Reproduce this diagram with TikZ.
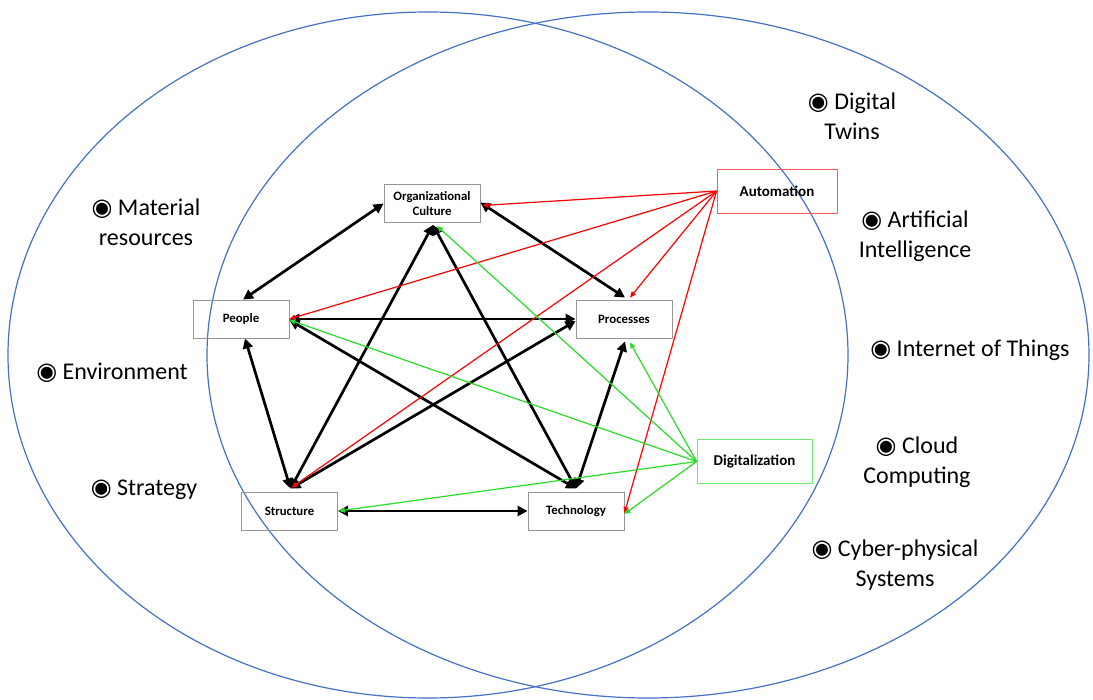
\documentclass[tikz,border=0pt]{standalone}
\usepackage{fontspec}
\setmainfont{Carlito}[BoldFont={Carlito Bold}]
\newfontfamily\symfont{DejaVu Sans}
\usetikzlibrary{arrows.meta}

\definecolor{ellblue}{RGB}{68,114,196}
\definecolor{linkred}{RGB}{255,0,0}
\definecolor{linkgreen}{RGB}{40,220,40}
\definecolor{boxgray}{RGB}{150,150,150}
\definecolor{autoborder}{RGB}{255,90,90}
\definecolor{digiborder}{RGB}{110,235,110}

\newcommand{\bul}{{\symfont\char"25C9}\ }

\tikzset{
  dimbox/.style={draw=boxgray, line width=0.8pt, minimum width=96pt, minimum height=38pt,
    inner sep=1pt, align=center, font=\fontsize{12.8}{15.5}\selectfont\bfseries},
  drvbox/.style={dimbox, minimum width=120pt, minimum height=44pt, font=\fontsize{15}{17}\selectfont\bfseries},
  item/.style={align=center, inner sep=0pt, font=\fontsize{24}{30}\selectfont},
  link/.style={line width=2.7pt, {Triangle[length=10pt,width=10pt]}-{Triangle[length=10pt,width=10pt]}},
  redlink/.style={linkred, line width=1.2pt, -{Triangle[length=6pt,width=5pt]}},
  greenlink/.style={linkgreen, line width=1.2pt, -{Triangle[length=6pt,width=5pt]}},
}

\begin{document}
\begin{tikzpicture}[x=1pt, y=-1pt]
\useasboundingbox (0,0) rectangle (1093,700);
\fill[white] (0,0) rectangle (1093,700);

% the two overlapping domains
\draw[ellblue, line width=1.2pt] (428,355) ellipse [x radius=420pt, y radius=343pt];
\draw[ellblue, line width=1.2pt] (648,355) ellipse [x radius=441pt, y radius=343pt];

% dimensions of the organisation
\node[dimbox] (oc)  at (432,203.5) {Organizational\\Culture};
\node[dimbox] (ppl) at (241,319) {People};
\node[dimbox] (prc) at (624,319) {Processes};
\node[dimbox] (str) at (289.5,511) {Structure};
\node[dimbox] (tec) at (576,511) {Technology};

% drivers
\node[drvbox, draw=autoborder] (aut) at (777,191) {Automation};
\node[drvbox, draw=digiborder, minimum width=115pt] (dig) at (754.5,461.5) {Digitalization};

% left-hand domain items
\node[item] (mat) at (146,222) {\bul Material\\resources};
\node[item] (env) at (112,373) {\bul Environment};
\node[item] (stg) at (144,490) {\bul Strategy};

% right-hand domain items
\node[item] (dtw) at (852,116) {\bul Digital\\Twins};
\node[item] (ai)  at (915,236) {\bul Artificial\\Intelligence};
\node[item] (iot) at (970,350) {\bul Internet of Things};
\node[item] (cc)  at (917,462) {\bul Cloud\\Computing};
\node[item] (cps) at (895,565) {\bul Cyber-physical\\Systems};

% interrelations between the dimensions
\draw[link] (oc.west) -- ([xshift=2pt]ppl.north);
\draw[link] (ppl.east) -- (prc.west);
\draw[link] ([yshift=-1pt]ppl.east) -- ([yshift=3pt]tec.north);
\draw[link] ([xshift=4pt]ppl.south) -- ([xshift=1pt,yshift=3pt]str.north);
\draw[link] ([xshift=1pt,yshift=3pt]str.north) -- ([xshift=1pt,yshift=-2pt]oc.south);
\draw[link] ([xshift=1pt,yshift=3pt]str.north) -- ([yshift=-2pt]prc.west);
\draw[link] ([xshift=1pt,yshift=-2pt]oc.south) -- ([yshift=3pt]tec.north);
\draw[link] ([yshift=1pt]oc.east) -- ([xshift=1pt,yshift=2pt]prc.north);
\draw[link] ([xshift=1pt,yshift=-3pt]prc.south) -- ([yshift=3pt]tec.north);
\draw[link] (str.east) -- (tec.west);

% effects of automation
\draw[redlink] (aut.west) -- ([xshift=2pt,yshift=-2pt]oc.east);
\draw[redlink] (aut.west) -- (ppl.east);
\draw[redlink] (aut.west) -- ([xshift=6pt,yshift=2pt]prc.north);
\draw[redlink] (aut.west) -- ([xshift=2pt,yshift=4pt]str.north);
\draw[redlink] (aut.west) -- ([yshift=-2pt]tec.east);

% effects of digitalization
\draw[greenlink] (dig.west) -- ([xshift=5pt,yshift=-3pt]oc.south);
\draw[greenlink] (dig.west) -- ([yshift=-1pt]ppl.east);
\draw[greenlink] (dig.west) -- ([xshift=6pt,yshift=-4pt]prc.south);
\draw[greenlink] (dig.west) -- ([xshift=1pt]str.east);
\draw[greenlink] (dig.west) -- ([yshift=-3pt]tec.east);
\end{tikzpicture}
\end{document}
